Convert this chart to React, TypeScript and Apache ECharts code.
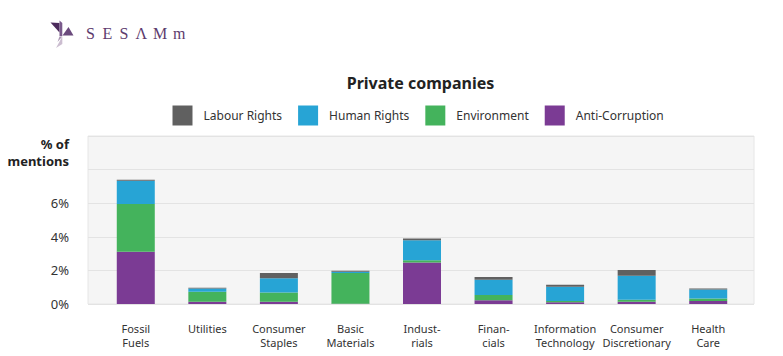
import React, { useEffect, useRef } from "react";
import * as echarts from "echarts";

const categories = [
  "Fossil\nFuels",
  "Utilities",
  "Consumer\nStaples",
  "Basic\nMaterials",
  "Indust-\nrials",
  "Finan-\ncials",
  "Information\nTechnology",
  "Consumer\nDiscretionary",
  "Health\nCare",
];

const antiCorruption = [3.11, 0.14, 0.14, 0.02, 2.47, 0.22, 0.1, 0.14, 0.18];
const environment = [2.84, 0.59, 0.55, 1.82, 0.14, 0.32, 0.08, 0.12, 0.14];
const humanRights = [1.39, 0.2, 0.85, 0.08, 1.19, 0.91, 0.85, 1.42, 0.55];
const labourRights = [0.06, 0.03, 0.3, 0.06, 0.1, 0.16, 0.12, 0.34, 0.06];

const legendOrder = ["Labour Rights", "Human Rights", "Environment", "Anti-Corruption"];
const yMax = 10;
const yStep = 2;
const yLabelMax = 6;

const COLORS: Record<string, string> = {
  "Anti-Corruption": "#7b3b94",
  Environment: "#44b35c",
  "Human Rights": "#27a4d5",
  "Labour Rights": "#606060",
};

const logoChars = [
  { ch: "S", x: 86 },
  { ch: "E", x: 102.5 },
  { ch: "S", x: 119.5 },
  { ch: "Λ", x: 135.5 },
  { ch: "M", x: 153 },
  { ch: "m", x: 173 },
];

export default function App() {
  const ref = useRef<HTMLDivElement>(null);

  useEffect(() => {
    if (!ref.current) return;
    const chart = echarts.init(ref.current, undefined, { renderer: "svg" });

    const seriesDefs = [
      { name: "Anti-Corruption", data: antiCorruption },
      { name: "Environment", data: environment },
      { name: "Human Rights", data: humanRights },
      { name: "Labour Rights", data: labourRights },
    ];

    const logoText = logoChars.map((c) => ({
      type: "text",
      x: c.x,
      y: 33,
      style: {
        text: c.ch,
        font: "16px 'Liberation Serif'",
        fill: "#5d3b6d",
        verticalAlign: "middle",
      },
    }));

    chart.setOption({
      animation: false,
      backgroundColor: "#ffffff",
      textStyle: { fontFamily: "'Noto Sans', sans-serif" },
      legend: {
        data: legendOrder,
        left: 172.5,
        top: 105.5,
        padding: 0,
        itemWidth: 20,
        itemHeight: 20,
        itemGap: 16,
        icon: "rect",
        selectedMode: false,
        textStyle: { fontSize: 12, color: "#333", padding: [0, 0, 0, 6] },
      },
      graphic: [
        {
          type: "text",
          x: 420.5,
          y: 82.5,
          style: {
            text: "Private companies",
            font: "bold 16px 'Noto Sans'",
            fill: "#222",
            align: "center",
            verticalAlign: "middle",
          },
        },
        {
          type: "text",
          x: 69,
          y: 152,
          style: {
            text: "% of\nmentions",
            font: "bold 13px 'Noto Sans'",
            lineHeight: 17,
            fill: "#222",
            align: "right",
            verticalAlign: "middle",
          },
        },
        {
          type: "polygon",
          shape: { points: [[50.5, 22.5], [59.5, 23], [59.5, 32.5]] },
          style: { fill: "#4b2a5c" },
        },
        {
          type: "polygon",
          shape: { points: [[59.5, 20.5], [62.3, 23], [62.3, 36], [59.5, 36]] },
          style: { fill: "#7a5a8c" },
        },
        {
          type: "polygon",
          shape: { points: [[62.5, 35.5], [73.5, 35.5], [68.5, 27]] },
          style: { fill: "#6b4a7d" },
        },
        {
          type: "polygon",
          shape: { points: [[56, 48], [62.3, 36.5], [62.3, 44]] },
          style: { fill: "#cbbdd0" },
        },
        {
          type: "polygon",
          shape: { points: [[59.5, 36.5], [62.3, 36.5], [57.5, 42]] },
          style: { fill: "#a893b0" },
        },
        ...logoText,
      ],
      grid: [
        {
          left: 88,
          top: 136,
          width: 666,
          height: 168,
          show: true,
          backgroundColor: "#f5f5f5",
          borderColor: "#e6e6e6",
          borderWidth: 1,
        },
        {
          left: 100,
          top: 136,
          width: 644,
          height: 168,
        },
      ],
      xAxis: [
        { type: "value", gridIndex: 0, show: false, min: 0, max: 1 },
        {
          type: "category",
          gridIndex: 1,
          data: categories,
          axisLine: { show: false },
          axisTick: { show: false },
          axisLabel: {
            interval: 0,
            fontSize: 11,
            lineHeight: 14,
            color: "#333",
            margin: 17,
          },
        },
      ],
      yAxis: [
        {
          type: "value",
          gridIndex: 0,
          min: 0,
          max: yMax,
          interval: yStep,
          axisLine: { show: false },
          axisTick: { show: false },
          splitLine: { lineStyle: { color: "#e3e3e3", width: 1 } },
          axisLabel: {
            margin: 19,
            fontSize: 13,
            color: "#333",
            formatter: (v: number) => (v <= yLabelMax ? v + "%" : ""),
          },
        },
        {
          type: "value",
          gridIndex: 1,
          min: 0,
          max: yMax,
          interval: yStep,
          show: false,
          splitLine: { show: false },
        },
      ],
      series: seriesDefs.map((s) => ({
        name: s.name,
        type: "bar",
        stack: "total",
        xAxisIndex: 1,
        yAxisIndex: 1,
        barWidth: 38,
        data: s.data,
        itemStyle: {
          color: COLORS[s.name],
        },
      })),
    });

    return () => chart.dispose();
  }, []);

  return (
    <div
      ref={ref}
      style={{ position: "fixed", left: 0, top: 0, width: 783, height: 356, background: "#fff" }}
    />
  );
}
